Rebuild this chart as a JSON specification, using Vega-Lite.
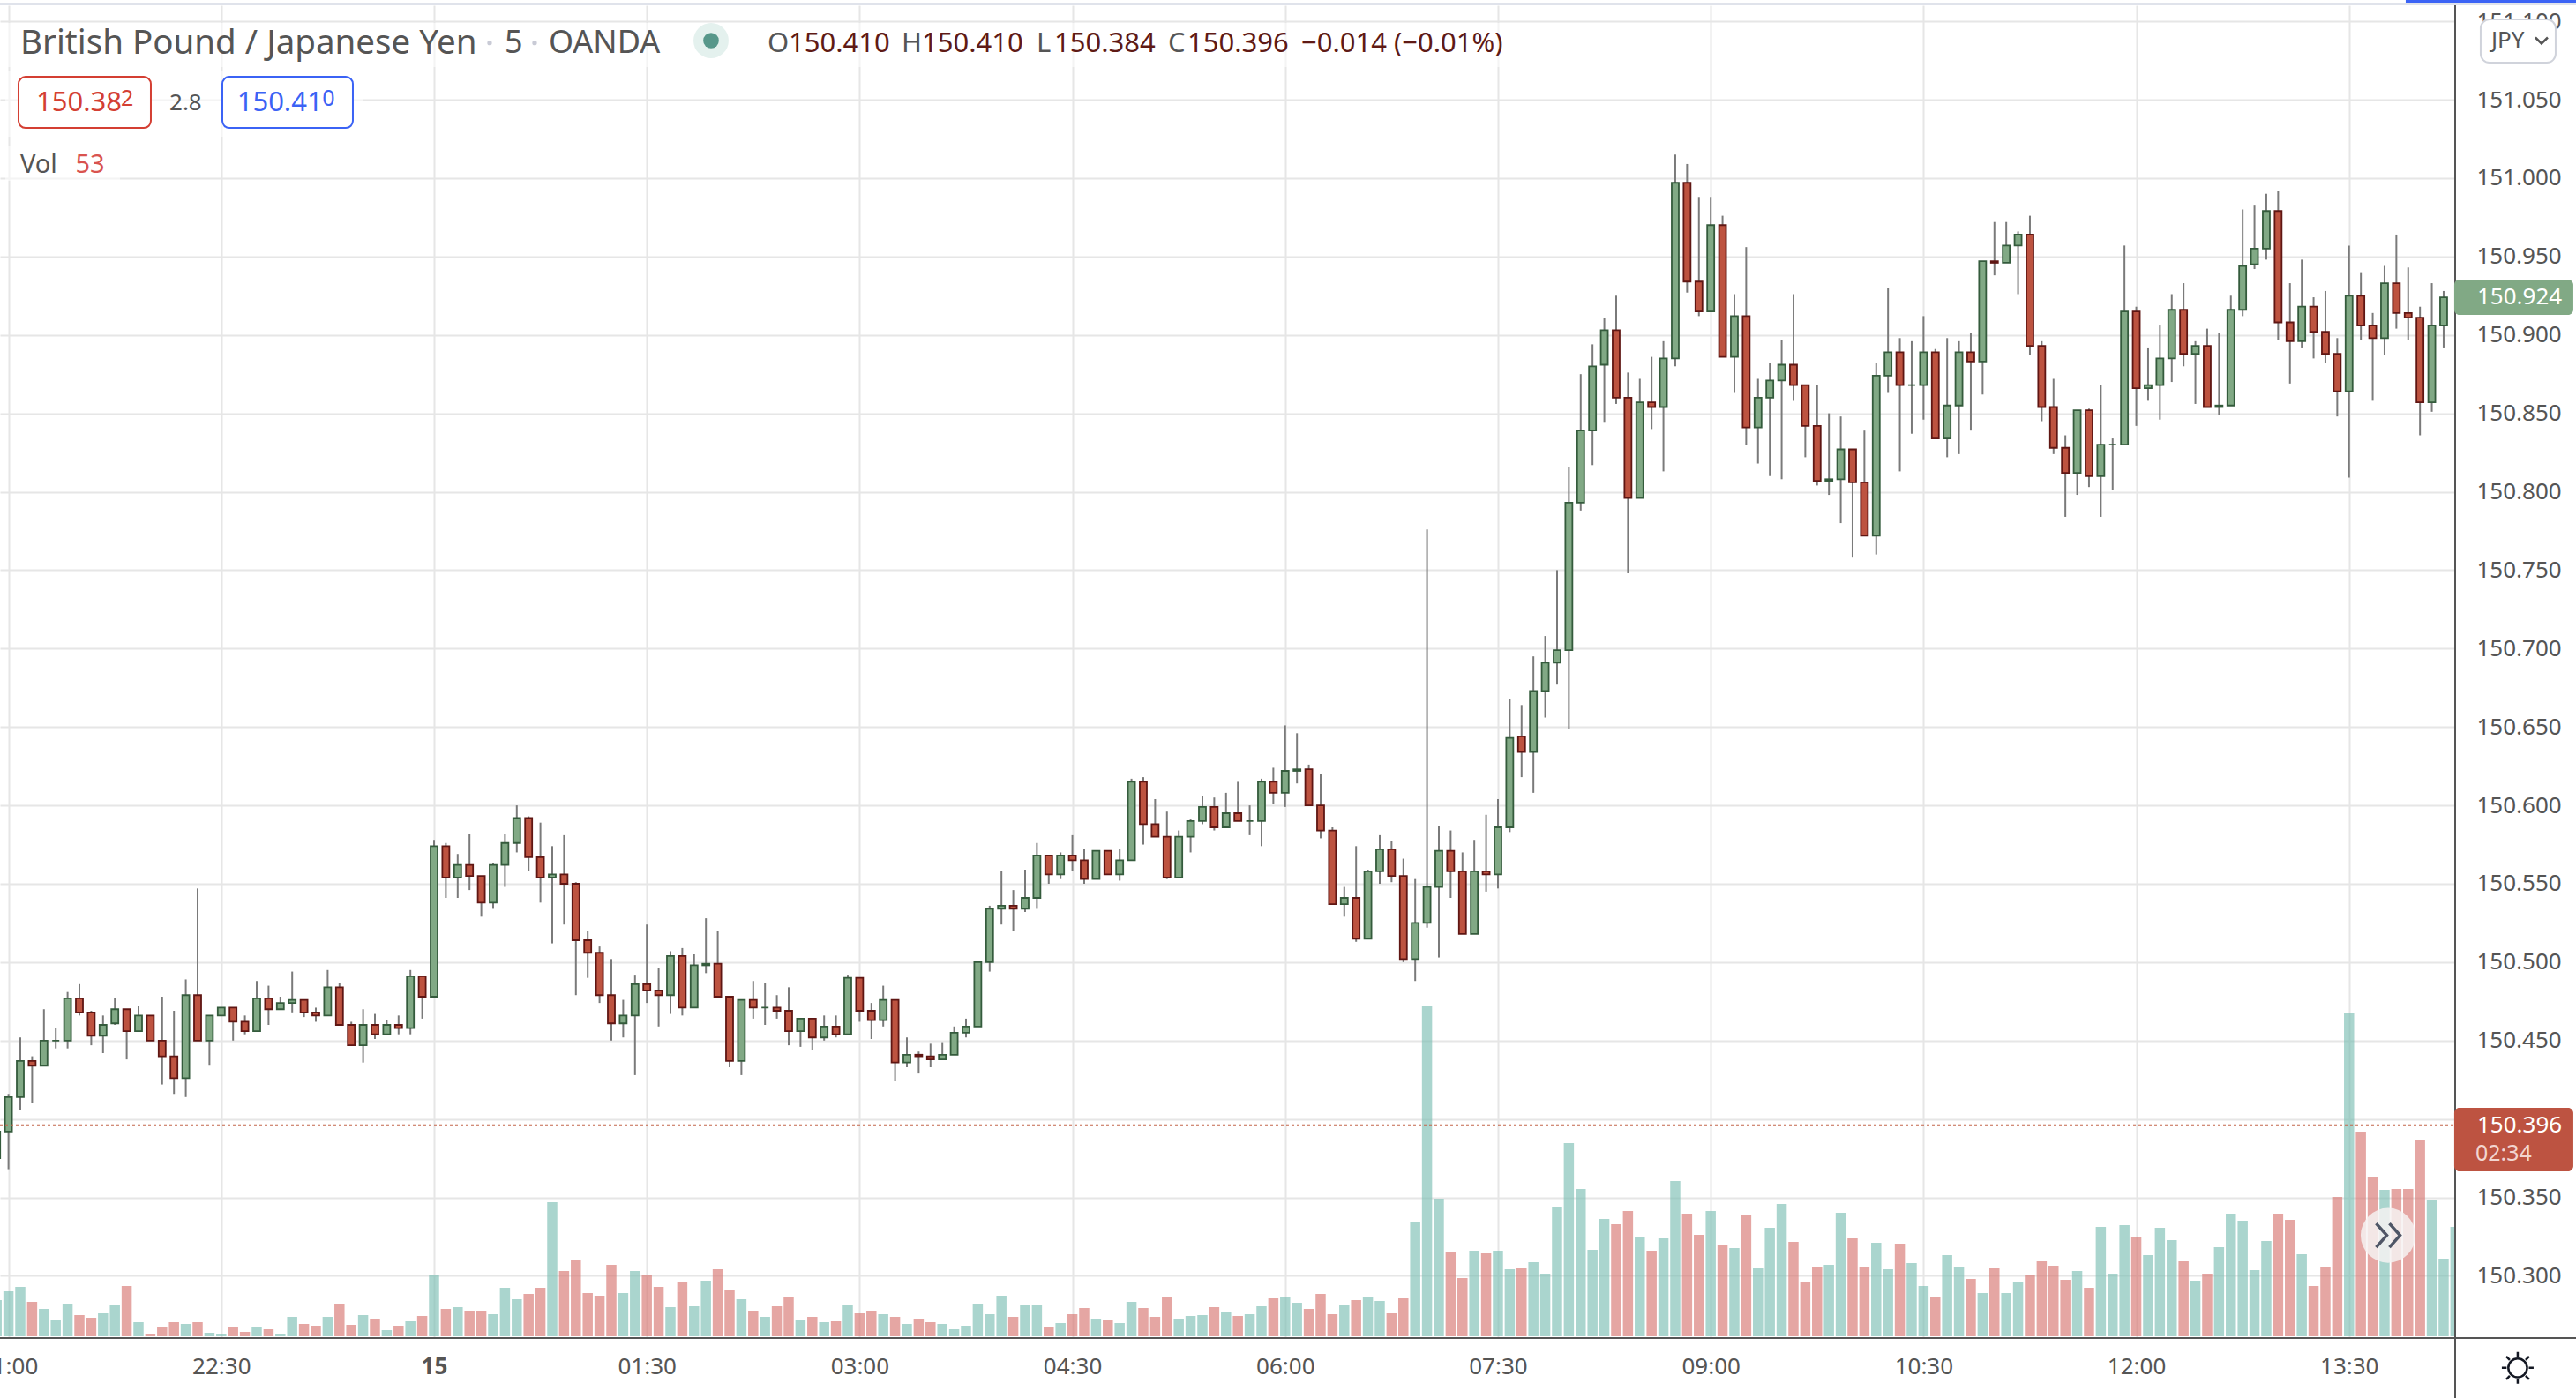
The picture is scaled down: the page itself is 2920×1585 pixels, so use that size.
{"$schema":"https://vega.github.io/schema/vega-lite/v6.json","width":2783,"height":1510,"autosize":{"type":"none"},"padding":{"left":0,"top":6,"right":137,"bottom":69},"background":"white","config":{"font":"Noto Sans","view":{"stroke":null}},
"data":{"values":[{}]},
"datasets":{"bars":[
{"t":"2021-04-14T20:55Z","o":150.375,"h":150.395,"l":150.370,"c":150.392,"v":41},
{"t":"2021-04-14T21:00Z","o":150.392,"h":150.416,"l":150.368,"c":150.414,"v":51},
{"t":"2021-04-14T21:05Z","o":150.414,"h":150.452,"l":150.406,"c":150.437,"v":56},
{"t":"2021-04-14T21:10Z","o":150.437,"h":150.440,"l":150.410,"c":150.434,"v":39},
{"t":"2021-04-14T21:15Z","o":150.434,"h":150.470,"l":150.434,"c":150.450,"v":31},
{"t":"2021-04-14T21:20Z","o":150.450,"h":150.458,"l":150.445,"c":150.450,"v":19},
{"t":"2021-04-14T21:25Z","o":150.450,"h":150.481,"l":150.445,"c":150.477,"v":37},
{"t":"2021-04-14T21:30Z","o":150.477,"h":150.486,"l":150.466,"c":150.468,"v":24},
{"t":"2021-04-14T21:35Z","o":150.468,"h":150.469,"l":150.447,"c":150.453,"v":21},
{"t":"2021-04-14T21:40Z","o":150.453,"h":150.466,"l":150.442,"c":150.460,"v":26},
{"t":"2021-04-14T21:45Z","o":150.461,"h":150.477,"l":150.460,"c":150.470,"v":35},
{"t":"2021-04-14T21:50Z","o":150.470,"h":150.470,"l":150.438,"c":150.456,"v":57},
{"t":"2021-04-14T21:55Z","o":150.456,"h":150.472,"l":150.456,"c":150.466,"v":16},
{"t":"2021-04-14T22:00Z","o":150.466,"h":150.466,"l":150.450,"c":150.450,"v":2},
{"t":"2021-04-14T22:05Z","o":150.450,"h":150.478,"l":150.422,"c":150.440,"v":11},
{"t":"2021-04-14T22:10Z","o":150.440,"h":150.469,"l":150.416,"c":150.426,"v":16},
{"t":"2021-04-14T22:15Z","o":150.426,"h":150.489,"l":150.414,"c":150.479,"v":14},
{"t":"2021-04-14T22:20Z","o":150.479,"h":150.547,"l":150.450,"c":150.450,"v":16},
{"t":"2021-04-14T22:25Z","o":150.450,"h":150.466,"l":150.434,"c":150.466,"v":4},
{"t":"2021-04-14T22:30Z","o":150.466,"h":150.471,"l":150.466,"c":150.471,"v":2},
{"t":"2021-04-14T22:35Z","o":150.471,"h":150.471,"l":150.450,"c":150.462,"v":10},
{"t":"2021-04-14T22:40Z","o":150.462,"h":150.466,"l":150.454,"c":150.456,"v":5},
{"t":"2021-04-14T22:45Z","o":150.456,"h":150.488,"l":150.456,"c":150.477,"v":11},
{"t":"2021-04-14T22:50Z","o":150.477,"h":150.485,"l":150.460,"c":150.470,"v":8},
{"t":"2021-04-14T22:55Z","o":150.470,"h":150.478,"l":150.470,"c":150.474,"v":3},
{"t":"2021-04-14T23:00Z","o":150.474,"h":150.494,"l":150.468,"c":150.476,"v":22},
{"t":"2021-04-14T23:05Z","o":150.476,"h":150.476,"l":150.465,"c":150.468,"v":14},
{"t":"2021-04-14T23:10Z","o":150.468,"h":150.471,"l":150.462,"c":150.466,"v":12},
{"t":"2021-04-14T23:15Z","o":150.466,"h":150.495,"l":150.466,"c":150.484,"v":22},
{"t":"2021-04-14T23:20Z","o":150.484,"h":150.487,"l":150.460,"c":150.460,"v":37},
{"t":"2021-04-14T23:25Z","o":150.460,"h":150.462,"l":150.447,"c":150.447,"v":13},
{"t":"2021-04-14T23:30Z","o":150.447,"h":150.470,"l":150.436,"c":150.460,"v":24},
{"t":"2021-04-14T23:35Z","o":150.460,"h":150.467,"l":150.451,"c":150.454,"v":20},
{"t":"2021-04-14T23:40Z","o":150.454,"h":150.463,"l":150.454,"c":150.460,"v":7},
{"t":"2021-04-14T23:45Z","o":150.460,"h":150.466,"l":150.454,"c":150.458,"v":12},
{"t":"2021-04-14T23:50Z","o":150.458,"h":150.495,"l":150.454,"c":150.491,"v":17},
{"t":"2021-04-14T23:55Z","o":150.491,"h":150.491,"l":150.464,"c":150.478,"v":23},
{"t":"2021-04-15T00:00Z","o":150.478,"h":150.578,"l":150.478,"c":150.574,"v":70},
{"t":"2021-04-15T00:05Z","o":150.574,"h":150.576,"l":150.541,"c":150.554,"v":31},
{"t":"2021-04-15T00:10Z","o":150.554,"h":150.569,"l":150.541,"c":150.562,"v":33},
{"t":"2021-04-15T00:15Z","o":150.562,"h":150.582,"l":150.546,"c":150.555,"v":29},
{"t":"2021-04-15T00:20Z","o":150.555,"h":150.555,"l":150.529,"c":150.538,"v":29},
{"t":"2021-04-15T00:25Z","o":150.538,"h":150.563,"l":150.534,"c":150.562,"v":25},
{"t":"2021-04-15T00:30Z","o":150.562,"h":150.582,"l":150.548,"c":150.576,"v":55},
{"t":"2021-04-15T00:35Z","o":150.576,"h":150.600,"l":150.570,"c":150.592,"v":42},
{"t":"2021-04-15T00:40Z","o":150.592,"h":150.593,"l":150.558,"c":150.567,"v":48},
{"t":"2021-04-15T00:45Z","o":150.567,"h":150.589,"l":150.538,"c":150.554,"v":55},
{"t":"2021-04-15T00:50Z","o":150.554,"h":150.574,"l":150.512,"c":150.556,"v":152},
{"t":"2021-04-15T00:55Z","o":150.556,"h":150.581,"l":150.524,"c":150.550,"v":74},
{"t":"2021-04-15T01:00Z","o":150.550,"h":150.551,"l":150.479,"c":150.514,"v":86},
{"t":"2021-04-15T01:05Z","o":150.514,"h":150.520,"l":150.490,"c":150.506,"v":49},
{"t":"2021-04-15T01:10Z","o":150.506,"h":150.510,"l":150.474,"c":150.479,"v":46},
{"t":"2021-04-15T01:15Z","o":150.479,"h":150.502,"l":150.450,"c":150.461,"v":81},
{"t":"2021-04-15T01:20Z","o":150.461,"h":150.476,"l":150.452,"c":150.466,"v":49},
{"t":"2021-04-15T01:25Z","o":150.466,"h":150.492,"l":150.428,"c":150.486,"v":74},
{"t":"2021-04-15T01:30Z","o":150.486,"h":150.524,"l":150.474,"c":150.482,"v":69},
{"t":"2021-04-15T01:35Z","o":150.482,"h":150.496,"l":150.459,"c":150.479,"v":56},
{"t":"2021-04-15T01:40Z","o":150.479,"h":150.507,"l":150.467,"c":150.504,"v":33},
{"t":"2021-04-15T01:45Z","o":150.504,"h":150.509,"l":150.466,"c":150.471,"v":61},
{"t":"2021-04-15T01:50Z","o":150.471,"h":150.505,"l":150.471,"c":150.498,"v":34},
{"t":"2021-04-15T01:55Z","o":150.498,"h":150.528,"l":150.493,"c":150.499,"v":63},
{"t":"2021-04-15T02:00Z","o":150.499,"h":150.520,"l":150.478,"c":150.478,"v":76},
{"t":"2021-04-15T02:05Z","o":150.478,"h":150.478,"l":150.433,"c":150.437,"v":53},
{"t":"2021-04-15T02:10Z","o":150.437,"h":150.476,"l":150.428,"c":150.476,"v":42},
{"t":"2021-04-15T02:15Z","o":150.476,"h":150.488,"l":150.464,"c":150.471,"v":29},
{"t":"2021-04-15T02:20Z","o":150.471,"h":150.487,"l":150.460,"c":150.471,"v":22},
{"t":"2021-04-15T02:25Z","o":150.471,"h":150.479,"l":150.464,"c":150.469,"v":34},
{"t":"2021-04-15T02:30Z","o":150.469,"h":150.484,"l":150.447,"c":150.456,"v":44},
{"t":"2021-04-15T02:35Z","o":150.456,"h":150.464,"l":150.446,"c":150.464,"v":19},
{"t":"2021-04-15T02:40Z","o":150.464,"h":150.464,"l":150.444,"c":150.452,"v":22},
{"t":"2021-04-15T02:45Z","o":150.452,"h":150.466,"l":150.450,"c":150.459,"v":16},
{"t":"2021-04-15T02:50Z","o":150.459,"h":150.466,"l":150.452,"c":150.454,"v":17},
{"t":"2021-04-15T02:55Z","o":150.454,"h":150.492,"l":150.454,"c":150.490,"v":35},
{"t":"2021-04-15T03:00Z","o":150.490,"h":150.490,"l":150.462,"c":150.469,"v":26},
{"t":"2021-04-15T03:05Z","o":150.469,"h":150.474,"l":150.451,"c":150.463,"v":29},
{"t":"2021-04-15T03:10Z","o":150.463,"h":150.485,"l":150.459,"c":150.476,"v":25},
{"t":"2021-04-15T03:15Z","o":150.476,"h":150.476,"l":150.424,"c":150.436,"v":22},
{"t":"2021-04-15T03:20Z","o":150.436,"h":150.452,"l":150.433,"c":150.441,"v":14},
{"t":"2021-04-15T03:25Z","o":150.441,"h":150.443,"l":150.429,"c":150.440,"v":20},
{"t":"2021-04-15T03:30Z","o":150.440,"h":150.448,"l":150.433,"c":150.438,"v":16},
{"t":"2021-04-15T03:35Z","o":150.438,"h":150.449,"l":150.438,"c":150.441,"v":14},
{"t":"2021-04-15T03:40Z","o":150.441,"h":150.459,"l":150.441,"c":150.455,"v":8},
{"t":"2021-04-15T03:45Z","o":150.455,"h":150.464,"l":150.452,"c":150.459,"v":12},
{"t":"2021-04-15T03:50Z","o":150.459,"h":150.500,"l":150.459,"c":150.500,"v":37},
{"t":"2021-04-15T03:55Z","o":150.500,"h":150.536,"l":150.494,"c":150.534,"v":25},
{"t":"2021-04-15T04:00Z","o":150.534,"h":150.558,"l":150.524,"c":150.536,"v":46},
{"t":"2021-04-15T04:05Z","o":150.536,"h":150.546,"l":150.520,"c":150.534,"v":22},
{"t":"2021-04-15T04:10Z","o":150.534,"h":150.559,"l":150.532,"c":150.541,"v":35},
{"t":"2021-04-15T04:15Z","o":150.541,"h":150.576,"l":150.534,"c":150.568,"v":36},
{"t":"2021-04-15T04:20Z","o":150.568,"h":150.568,"l":150.550,"c":150.556,"v":10},
{"t":"2021-04-15T04:25Z","o":150.556,"h":150.570,"l":150.553,"c":150.568,"v":15},
{"t":"2021-04-15T04:30Z","o":150.568,"h":150.581,"l":150.558,"c":150.565,"v":25},
{"t":"2021-04-15T04:35Z","o":150.565,"h":150.572,"l":150.550,"c":150.553,"v":32},
{"t":"2021-04-15T04:40Z","o":150.553,"h":150.571,"l":150.553,"c":150.571,"v":20},
{"t":"2021-04-15T04:45Z","o":150.571,"h":150.571,"l":150.556,"c":150.556,"v":19},
{"t":"2021-04-15T04:50Z","o":150.556,"h":150.572,"l":150.552,"c":150.565,"v":15},
{"t":"2021-04-15T04:55Z","o":150.565,"h":150.617,"l":150.565,"c":150.615,"v":39},
{"t":"2021-04-15T05:00Z","o":150.615,"h":150.618,"l":150.575,"c":150.588,"v":32},
{"t":"2021-04-15T05:05Z","o":150.588,"h":150.604,"l":150.580,"c":150.580,"v":22},
{"t":"2021-04-15T05:10Z","o":150.580,"h":150.596,"l":150.553,"c":150.554,"v":44},
{"t":"2021-04-15T05:15Z","o":150.554,"h":150.584,"l":150.554,"c":150.580,"v":20},
{"t":"2021-04-15T05:20Z","o":150.580,"h":150.591,"l":150.570,"c":150.590,"v":23},
{"t":"2021-04-15T05:25Z","o":150.590,"h":150.606,"l":150.588,"c":150.599,"v":24},
{"t":"2021-04-15T05:30Z","o":150.599,"h":150.605,"l":150.584,"c":150.586,"v":33},
{"t":"2021-04-15T05:35Z","o":150.586,"h":150.608,"l":150.586,"c":150.595,"v":28},
{"t":"2021-04-15T05:40Z","o":150.595,"h":150.615,"l":150.590,"c":150.590,"v":23},
{"t":"2021-04-15T05:45Z","o":150.590,"h":150.600,"l":150.581,"c":150.590,"v":25},
{"t":"2021-04-15T05:50Z","o":150.590,"h":150.617,"l":150.574,"c":150.615,"v":34},
{"t":"2021-04-15T05:55Z","o":150.615,"h":150.624,"l":150.601,"c":150.608,"v":43},
{"t":"2021-04-15T06:00Z","o":150.608,"h":150.651,"l":150.599,"c":150.622,"v":45},
{"t":"2021-04-15T06:05Z","o":150.622,"h":150.646,"l":150.614,"c":150.623,"v":38},
{"t":"2021-04-15T06:10Z","o":150.623,"h":150.626,"l":150.600,"c":150.600,"v":31},
{"t":"2021-04-15T06:15Z","o":150.600,"h":150.620,"l":150.579,"c":150.584,"v":48},
{"t":"2021-04-15T06:20Z","o":150.584,"h":150.586,"l":150.537,"c":150.537,"v":25},
{"t":"2021-04-15T06:25Z","o":150.537,"h":150.548,"l":150.529,"c":150.541,"v":36},
{"t":"2021-04-15T06:30Z","o":150.541,"h":150.574,"l":150.513,"c":150.515,"v":41},
{"t":"2021-04-15T06:35Z","o":150.515,"h":150.559,"l":150.515,"c":150.558,"v":44},
{"t":"2021-04-15T06:40Z","o":150.558,"h":150.581,"l":150.550,"c":150.572,"v":40},
{"t":"2021-04-15T06:45Z","o":150.572,"h":150.577,"l":150.551,"c":150.555,"v":26},
{"t":"2021-04-15T06:50Z","o":150.555,"h":150.566,"l":150.500,"c":150.502,"v":43},
{"t":"2021-04-15T06:55Z","o":150.502,"h":150.553,"l":150.488,"c":150.525,"v":130},
{"t":"2021-04-15T07:00Z","o":150.525,"h":150.776,"l":150.522,"c":150.548,"v":375},
{"t":"2021-04-15T07:05Z","o":150.548,"h":150.587,"l":150.503,"c":150.571,"v":156},
{"t":"2021-04-15T07:10Z","o":150.571,"h":150.584,"l":150.541,"c":150.558,"v":95},
{"t":"2021-04-15T07:15Z","o":150.558,"h":150.570,"l":150.518,"c":150.518,"v":66},
{"t":"2021-04-15T07:20Z","o":150.518,"h":150.578,"l":150.518,"c":150.558,"v":97},
{"t":"2021-04-15T07:25Z","o":150.558,"h":150.594,"l":150.545,"c":150.556,"v":94},
{"t":"2021-04-15T07:30Z","o":150.556,"h":150.604,"l":150.547,"c":150.586,"v":97},
{"t":"2021-04-15T07:35Z","o":150.586,"h":150.668,"l":150.583,"c":150.643,"v":76},
{"t":"2021-04-15T07:40Z","o":150.644,"h":150.664,"l":150.618,"c":150.634,"v":77},
{"t":"2021-04-15T07:45Z","o":150.634,"h":150.695,"l":150.608,"c":150.673,"v":84},
{"t":"2021-04-15T07:50Z","o":150.673,"h":150.708,"l":150.656,"c":150.691,"v":71},
{"t":"2021-04-15T07:55Z","o":150.691,"h":150.750,"l":150.677,"c":150.699,"v":146},
{"t":"2021-04-15T08:00Z","o":150.699,"h":150.816,"l":150.649,"c":150.793,"v":219},
{"t":"2021-04-15T08:05Z","o":150.793,"h":150.875,"l":150.788,"c":150.839,"v":167},
{"t":"2021-04-15T08:10Z","o":150.839,"h":150.894,"l":150.817,"c":150.880,"v":98},
{"t":"2021-04-15T08:15Z","o":150.881,"h":150.911,"l":150.844,"c":150.903,"v":133},
{"t":"2021-04-15T08:20Z","o":150.903,"h":150.925,"l":150.856,"c":150.860,"v":127},
{"t":"2021-04-15T08:25Z","o":150.860,"h":150.876,"l":150.748,"c":150.796,"v":142},
{"t":"2021-04-15T08:30Z","o":150.796,"h":150.872,"l":150.796,"c":150.857,"v":113},
{"t":"2021-04-15T08:35Z","o":150.857,"h":150.886,"l":150.840,"c":150.854,"v":97},
{"t":"2021-04-15T08:40Z","o":150.854,"h":150.896,"l":150.813,"c":150.885,"v":111},
{"t":"2021-04-15T08:45Z","o":150.885,"h":151.015,"l":150.880,"c":150.997,"v":176},
{"t":"2021-04-15T08:50Z","o":150.997,"h":151.009,"l":150.927,"c":150.934,"v":139},
{"t":"2021-04-15T08:55Z","o":150.934,"h":150.988,"l":150.912,"c":150.915,"v":115},
{"t":"2021-04-15T09:00Z","o":150.915,"h":150.988,"l":150.915,"c":150.970,"v":142},
{"t":"2021-04-15T09:05Z","o":150.970,"h":150.976,"l":150.886,"c":150.886,"v":104},
{"t":"2021-04-15T09:10Z","o":150.886,"h":150.926,"l":150.863,"c":150.912,"v":100},
{"t":"2021-04-15T09:15Z","o":150.912,"h":150.956,"l":150.830,"c":150.841,"v":138},
{"t":"2021-04-15T09:20Z","o":150.841,"h":150.872,"l":150.818,"c":150.860,"v":77},
{"t":"2021-04-15T09:25Z","o":150.860,"h":150.882,"l":150.810,"c":150.871,"v":123},
{"t":"2021-04-15T09:30Z","o":150.871,"h":150.897,"l":150.808,"c":150.881,"v":150},
{"t":"2021-04-15T09:35Z","o":150.881,"h":150.926,"l":150.858,"c":150.868,"v":107},
{"t":"2021-04-15T09:40Z","o":150.868,"h":150.868,"l":150.822,"c":150.842,"v":62},
{"t":"2021-04-15T09:45Z","o":150.842,"h":150.868,"l":150.804,"c":150.807,"v":78},
{"t":"2021-04-15T09:50Z","o":150.807,"h":150.850,"l":150.798,"c":150.808,"v":81},
{"t":"2021-04-15T09:55Z","o":150.808,"h":150.848,"l":150.780,"c":150.827,"v":140},
{"t":"2021-04-15T10:00Z","o":150.827,"h":150.827,"l":150.758,"c":150.806,"v":111},
{"t":"2021-04-15T10:05Z","o":150.806,"h":150.839,"l":150.772,"c":150.772,"v":79},
{"t":"2021-04-15T10:10Z","o":150.772,"h":150.882,"l":150.760,"c":150.874,"v":106},
{"t":"2021-04-15T10:15Z","o":150.874,"h":150.930,"l":150.863,"c":150.889,"v":76},
{"t":"2021-04-15T10:20Z","o":150.889,"h":150.898,"l":150.813,"c":150.868,"v":105},
{"t":"2021-04-15T10:25Z","o":150.868,"h":150.896,"l":150.837,"c":150.868,"v":83},
{"t":"2021-04-15T10:30Z","o":150.868,"h":150.912,"l":150.846,"c":150.889,"v":57},
{"t":"2021-04-15T10:35Z","o":150.889,"h":150.891,"l":150.834,"c":150.834,"v":44},
{"t":"2021-04-15T10:40Z","o":150.834,"h":150.898,"l":150.822,"c":150.855,"v":92},
{"t":"2021-04-15T10:45Z","o":150.855,"h":150.896,"l":150.824,"c":150.889,"v":79},
{"t":"2021-04-15T10:50Z","o":150.889,"h":150.901,"l":150.839,"c":150.883,"v":65},
{"t":"2021-04-15T10:55Z","o":150.883,"h":150.947,"l":150.862,"c":150.947,"v":49},
{"t":"2021-04-15T11:00Z","o":150.947,"h":150.972,"l":150.938,"c":150.946,"v":77},
{"t":"2021-04-15T11:05Z","o":150.946,"h":150.972,"l":150.946,"c":150.957,"v":49},
{"t":"2021-04-15T11:10Z","o":150.957,"h":150.966,"l":150.926,"c":150.964,"v":62},
{"t":"2021-04-15T11:15Z","o":150.964,"h":150.976,"l":150.887,"c":150.893,"v":70},
{"t":"2021-04-15T11:20Z","o":150.893,"h":150.896,"l":150.845,"c":150.854,"v":85},
{"t":"2021-04-15T11:25Z","o":150.854,"h":150.872,"l":150.824,"c":150.828,"v":80},
{"t":"2021-04-15T11:30Z","o":150.828,"h":150.836,"l":150.784,"c":150.812,"v":64},
{"t":"2021-04-15T11:35Z","o":150.812,"h":150.852,"l":150.798,"c":150.852,"v":74},
{"t":"2021-04-15T11:40Z","o":150.852,"h":150.853,"l":150.803,"c":150.810,"v":55},
{"t":"2021-04-15T11:45Z","o":150.810,"h":150.868,"l":150.784,"c":150.830,"v":124},
{"t":"2021-04-15T11:50Z","o":150.830,"h":150.834,"l":150.801,"c":150.830,"v":71},
{"t":"2021-04-15T11:55Z","o":150.830,"h":150.957,"l":150.830,"c":150.915,"v":126},
{"t":"2021-04-15T12:00Z","o":150.915,"h":150.918,"l":150.842,"c":150.866,"v":112},
{"t":"2021-04-15T12:05Z","o":150.866,"h":150.892,"l":150.858,"c":150.868,"v":92},
{"t":"2021-04-15T12:10Z","o":150.868,"h":150.906,"l":150.846,"c":150.885,"v":123},
{"t":"2021-04-15T12:15Z","o":150.885,"h":150.926,"l":150.870,"c":150.916,"v":109},
{"t":"2021-04-15T12:20Z","o":150.916,"h":150.933,"l":150.880,"c":150.888,"v":85},
{"t":"2021-04-15T12:25Z","o":150.888,"h":150.896,"l":150.856,"c":150.893,"v":63},
{"t":"2021-04-15T12:30Z","o":150.893,"h":150.904,"l":150.854,"c":150.854,"v":71},
{"t":"2021-04-15T12:35Z","o":150.854,"h":150.901,"l":150.849,"c":150.855,"v":101},
{"t":"2021-04-15T12:40Z","o":150.855,"h":150.925,"l":150.855,"c":150.916,"v":139},
{"t":"2021-04-15T12:45Z","o":150.916,"h":150.980,"l":150.912,"c":150.944,"v":131},
{"t":"2021-04-15T12:50Z","o":150.945,"h":150.983,"l":150.942,"c":150.955,"v":75},
{"t":"2021-04-15T12:55Z","o":150.955,"h":150.990,"l":150.948,"c":150.979,"v":108},
{"t":"2021-04-15T13:00Z","o":150.979,"h":150.992,"l":150.897,"c":150.908,"v":139},
{"t":"2021-04-15T13:05Z","o":150.908,"h":150.933,"l":150.869,"c":150.896,"v":132},
{"t":"2021-04-15T13:10Z","o":150.896,"h":150.948,"l":150.892,"c":150.918,"v":93},
{"t":"2021-04-15T13:15Z","o":150.918,"h":150.924,"l":150.885,"c":150.902,"v":57},
{"t":"2021-04-15T13:20Z","o":150.902,"h":150.928,"l":150.882,"c":150.888,"v":79},
{"t":"2021-04-15T13:25Z","o":150.888,"h":150.898,"l":150.848,"c":150.864,"v":158},
{"t":"2021-04-15T13:30Z","o":150.864,"h":150.957,"l":150.809,"c":150.925,"v":366},
{"t":"2021-04-15T13:35Z","o":150.925,"h":150.940,"l":150.897,"c":150.906,"v":232},
{"t":"2021-04-15T13:40Z","o":150.906,"h":150.914,"l":150.858,"c":150.898,"v":181},
{"t":"2021-04-15T13:45Z","o":150.898,"h":150.944,"l":150.887,"c":150.933,"v":166},
{"t":"2021-04-15T13:50Z","o":150.933,"h":150.964,"l":150.904,"c":150.914,"v":167},
{"t":"2021-04-15T13:55Z","o":150.914,"h":150.943,"l":150.897,"c":150.911,"v":167},
{"t":"2021-04-15T14:00Z","o":150.911,"h":150.918,"l":150.836,"c":150.857,"v":223},
{"t":"2021-04-15T14:05Z","o":150.857,"h":150.933,"l":150.851,"c":150.906,"v":154},
{"t":"2021-04-15T14:10Z","o":150.906,"h":150.928,"l":150.892,"c":150.924,"v":88},
{"t":"2021-04-15T14:15Z","o":null,"h":null,"l":null,"c":null,"v":124}
]},
"resolve":{"scale":{"y":"independent"}},
"layer":[
{"data":{"name":"bars"},"mark":{"type":"bar","size":11.5,"clip":true,"opacity":0.65},
"encoding":{
"x":{"field":"t","type":"temporal","scale":{"type":"utc","domain":[1618433785000,1618496092000],"nice":false,"padding":0},
"axis":{"title":null,"values":["2021-04-14T21:00Z","2021-04-14T22:30Z","2021-04-15T00:00Z","2021-04-15T01:30Z","2021-04-15T03:00Z","2021-04-15T04:30Z","2021-04-15T06:00Z","2021-04-15T07:30Z","2021-04-15T09:00Z","2021-04-15T10:30Z","2021-04-15T12:00Z","2021-04-15T13:30Z"],"labelExpr":"utchours(datum.value)==0 ? '15' : utcFormat(datum.value,'%H:%M')","grid":true,"gridColor":"#E6E6E6","gridWidth":2,"domain":false,"ticks":false,"labelFontSize":26,"labelColor":"#555555","labelPadding":20,"labelOverlap":false,"labelBound":false,"labelFlush":false,"labelFontWeight":{"condition":{"test":"utchours(datum.value)==0","value":"bold"},"value":"normal"}}},
"y":{"field":"v","type":"quantitative","stack":null,"scale":{"domain":[-1,1509],"nice":false,"zero":false},"axis":null},
"color":{"condition":{"test":"datum.c>=datum.o","value":"#7DBFB3"},"value":"#D77672"}}},
{"layer":[
{"mark":{"type":"rect","color":"white","opacity":0.55},"encoding":{"x":{"datum":1618433920000,"type":"temporal"},"x2":{"datum":1618472180000},"y":{"datum":151.0989,"type":"quantitative"},"y2":{"datum":151.0708}}},
{"mark":{"type":"rect","color":"white","opacity":0.55},"encoding":{"x":{"datum":1618433920000,"type":"temporal"},"x2":{"datum":1618442987000},"y":{"datum":151.0686,"type":"quantitative"},"y2":{"datum":151.0264}}},
{"mark":{"type":"rect","color":"white","opacity":0.55},"encoding":{"x":{"datum":1618433920000,"type":"temporal"},"x2":{"datum":1618436830000},"y":{"datum":151.0208,"type":"quantitative"},"y2":{"datum":150.9983}}},
{"data":{"name":"bars"},"mark":{"type":"rule","color":"#7A7A7A","strokeWidth":2,"clip":true},"encoding":{"x":{"field":"t","type":"temporal"},"y":{"field":"h","type":"quantitative","scale":{"domain":[150.2609,151.1102],"nice":false,"zero":false},
"axis":{"title":null,"orient":"right","values":[150.3,150.35,150.4,150.45,150.5,150.55,150.6,150.65,150.7,150.75,150.8,150.85,150.9,150.95,151,151.05,151.1],"format":".3f","grid":true,"gridColor":"#E6E6E6","gridWidth":2,"domain":false,"ticks":false,"labelFontSize":26,"labelColor":"#555555","labelPadding":24,"labelOverlap":false,"labelBound":false}},"y2":{"field":"l"}}},
{"data":{"name":"bars"},"mark":{"type":"bar","size":8,"strokeWidth":1.8,"clip":true},"encoding":{"x":{"field":"t","type":"temporal"},"y":{"field":"o","type":"quantitative"},"y2":{"field":"c"},
"fill":{"condition":{"test":"datum.c>=datum.o","value":"#81A985"},"value":"#BD5340"},
"stroke":{"condition":{"test":"datum.c>=datum.o","value":"#345B3C"},"value":"#5F1613"}}},
{"mark":{"type":"rule","color":"#C4674C","strokeWidth":2,"strokeDash":[3,3]},"encoding":{"x":{"datum":1618433785000,"type":"temporal"},"x2":{"datum":1618496092000},"y":{"datum":150.396,"type":"quantitative"}}},
{"mark":{"type":"rect","color":"#E0E3EB"},"encoding":{"x":{"datum":1618433785000,"type":"temporal"},"x2":{"datum":1618499400000},"y":{"datum":151.1119,"type":"quantitative"},"y2":{"datum":151.1102}}},
{"mark":{"type":"rect","color":"#3B63F5"},"encoding":{"x":{"datum":1618494837000,"type":"temporal"},"x2":{"datum":1618499400000},"y":{"datum":151.1136,"type":"quantitative"},"y2":{"datum":151.1119}}},
{"mark":{"type":"rule","color":"#555555","strokeWidth":2},"encoding":{"x":{"datum":1618496092000,"type":"temporal"},"y":{"datum":151.1102,"type":"quantitative"},"y2":{"datum":150.222}}},
{"mark":{"type":"rule","color":"#555555","strokeWidth":2},"encoding":{"x":{"datum":1618433785000,"type":"temporal"},"x2":{"datum":1618499400000},"y":{"datum":150.2604,"type":"quantitative"}}},
{"mark":{"type":"rect","color":"#81A985","cornerRadius":6},"encoding":{"x":{"datum":1618496068000,"type":"temporal"},"x2":{"datum":1618499091000},"y":{"datum":150.9353,"type":"quantitative"},"y2":{"datum":150.9128}}},
{"mark":{"type":"text","text":"150.924","align":"left","baseline":"middle","fontSize":26,"color":"white"},"encoding":{"x":{"datum":1618496650000,"type":"temporal"},"y":{"datum":150.924,"type":"quantitative"}}},
{"mark":{"type":"rect","color":"#BD5341","cornerRadius":6},"encoding":{"x":{"datum":1618496068000,"type":"temporal"},"x2":{"datum":1618499091000},"y":{"datum":150.4072,"type":"quantitative"},"y2":{"datum":150.3667}}},
{"mark":{"type":"text","text":"150.396","align":"left","baseline":"middle","fontSize":26,"color":"white"},"encoding":{"x":{"datum":1618496650000,"type":"temporal"},"y":{"datum":150.396,"type":"quantitative"}}},
{"mark":{"type":"text","text":"02:34","align":"left","baseline":"middle","fontSize":25,"color":"#F2D5D0"},"encoding":{"x":{"datum":1618496605000,"type":"temporal"},"y":{"datum":150.3779,"type":"quantitative"}}},
{"mark":{"type":"rect","fill":"white","stroke":"#D0D3DB","strokeWidth":2,"cornerRadius":10},"encoding":{"x":{"datum":1618496740000,"type":"temporal"},"x2":{"datum":1618498643000},"y":{"datum":151.1012,"type":"quantitative"},"y2":{"datum":151.0736}}},
{"mark":{"type":"text","text":"JPY","align":"left","baseline":"middle","fontSize":26,"color":"#555555"},"encoding":{"x":{"datum":1618497008000,"type":"temporal"},"y":{"datum":151.0877,"type":"quantitative"}}},
{"mark":{"type":"point","shape":"M-1,-0.5L0,0.5L1,-0.5","size":196,"filled":false,"color":"#555555","strokeWidth":2.5,"opacity":1},"encoding":{"x":{"datum":1618498285000,"type":"temporal"},"y":{"datum":151.0877,"type":"quantitative"}}},
{"mark":{"type":"circle","size":452,"filled":false,"stroke":"#131722","fill":"white","strokeWidth":2.5,"opacity":1},"encoding":{"x":{"datum":1618497680000,"type":"temporal"},"y":{"datum":150.2413,"type":"quantitative"}}},
{"mark":{"type":"point","shape":"M0,-1L0,-0.7M0,1L0,0.7M-1,0L-0.7,0M1,0L0.7,0M-0.72,-0.72L-0.5,-0.5M0.72,-0.72L0.5,-0.5M-0.72,0.72L-0.5,0.5M0.72,0.72L0.5,0.5","size":1296,"filled":false,"color":"#131722","strokeWidth":2.5,"opacity":1},"encoding":{"x":{"datum":1618497680000,"type":"temporal"},"y":{"datum":150.2413,"type":"quantitative"}}},
{"mark":{"type":"circle","size":3848,"color":"#F6F2F2","opacity":0.85},"encoding":{"x":{"datum":1618494390000,"type":"temporal"},"y":{"datum":150.3258,"type":"quantitative"}}},
{"mark":{"type":"point","shape":"M-0.9,-0.9L-0.1,0L-0.9,0.9M0.1,-0.9L0.9,0L0.1,0.9","size":900,"filled":false,"color":"#4F5666","strokeWidth":3.5,"opacity":1},"encoding":{"x":{"datum":1618494390000,"type":"temporal"},"y":{"datum":150.3258,"type":"quantitative"}}},
{"mark":{"type":"text","text":"British Pound / Japanese Yen","align":"left","baseline":"middle","fontSize":38.5,"color":"#555555"},"encoding":{"x":{"datum":1618434300000,"type":"temporal"},"y":{"datum":151.0862,"type":"quantitative"}}},
{"mark":{"type":"circle","size":28,"color":"#C9CBD6","opacity":1},"encoding":{"x":{"datum":1618446210000,"type":"temporal"},"y":{"datum":151.0862,"type":"quantitative"}}},
{"mark":{"type":"text","text":"5","align":"left","baseline":"middle","fontSize":36,"color":"#555555"},"encoding":{"x":{"datum":1618446591000,"type":"temporal"},"y":{"datum":151.0862,"type":"quantitative"}}},
{"mark":{"type":"circle","size":28,"color":"#C9CBD6","opacity":1},"encoding":{"x":{"datum":1618447352000,"type":"temporal"},"y":{"datum":151.0862,"type":"quantitative"}}},
{"mark":{"type":"text","text":"OANDA","align":"left","baseline":"middle","fontSize":36,"color":"#555555"},"encoding":{"x":{"datum":1618447710000,"type":"temporal"},"y":{"datum":151.0862,"type":"quantitative"}}},
{"mark":{"type":"circle","size":1590,"color":"#E4F1EE","opacity":1},"encoding":{"x":{"datum":1618451830000,"type":"temporal"},"y":{"datum":151.0877,"type":"quantitative"}}},
{"mark":{"type":"circle","size":314,"color":"#57978A","opacity":1},"encoding":{"x":{"datum":1618451830000,"type":"temporal"},"y":{"datum":151.0877,"type":"quantitative"}}},
{"mark":{"type":"text","text":"O","align":"left","baseline":"middle","fontSize":31,"color":"#555555"},"encoding":{"x":{"datum":1618453263000,"type":"temporal"},"y":{"datum":151.0854,"type":"quantitative"}}},
{"mark":{"type":"text","text":"150.410","align":"left","baseline":"middle","fontSize":31,"color":"#5F1A15"},"encoding":{"x":{"datum":1618453800000,"type":"temporal"},"y":{"datum":151.0854,"type":"quantitative"}}},
{"mark":{"type":"text","text":"H","align":"left","baseline":"middle","fontSize":31,"color":"#555555"},"encoding":{"x":{"datum":1618456666000,"type":"temporal"},"y":{"datum":151.0854,"type":"quantitative"}}},
{"mark":{"type":"text","text":"150.410","align":"left","baseline":"middle","fontSize":31,"color":"#5F1A15"},"encoding":{"x":{"datum":1618457181000,"type":"temporal"},"y":{"datum":151.0854,"type":"quantitative"}}},
{"mark":{"type":"text","text":"L","align":"left","baseline":"middle","fontSize":31,"color":"#555555"},"encoding":{"x":{"datum":1618460091000,"type":"temporal"},"y":{"datum":151.0854,"type":"quantitative"}}},
{"mark":{"type":"text","text":"150.384","align":"left","baseline":"middle","fontSize":31,"color":"#5F1A15"},"encoding":{"x":{"datum":1618460539000,"type":"temporal"},"y":{"datum":151.0854,"type":"quantitative"}}},
{"mark":{"type":"text","text":"C","align":"left","baseline":"middle","fontSize":31,"color":"#555555"},"encoding":{"x":{"datum":1618463427000,"type":"temporal"},"y":{"datum":151.0854,"type":"quantitative"}}},
{"mark":{"type":"text","text":"150.396","align":"left","baseline":"middle","fontSize":31,"color":"#5F1A15"},"encoding":{"x":{"datum":1618463919000,"type":"temporal"},"y":{"datum":151.0854,"type":"quantitative"}}},
{"mark":{"type":"text","text":"−0.014 (−0.01%)","align":"left","baseline":"middle","fontSize":31,"color":"#5F1A15"},"encoding":{"x":{"datum":1618466808000,"type":"temporal"},"y":{"datum":151.0854,"type":"quantitative"}}},
{"mark":{"type":"rect","fill":"white","stroke":"#D43F33","strokeWidth":2,"cornerRadius":8},"encoding":{"x":{"datum":1618434255000,"type":"temporal"},"x2":{"datum":1618437613000},"y":{"datum":151.0646,"type":"quantitative"},"y2":{"datum":151.032}}},
{"mark":{"type":"text","text":"150.38","align":"left","baseline":"middle","fontSize":31,"color":"#D43F33"},"encoding":{"x":{"datum":1618434703000,"type":"temporal"},"y":{"datum":151.0478,"type":"quantitative"}}},
{"mark":{"type":"text","text":"2","align":"left","baseline":"middle","fontSize":25,"color":"#D43F33"},"encoding":{"x":{"datum":1618436850000,"type":"temporal"},"y":{"datum":151.0505,"type":"quantitative"}}},
{"mark":{"type":"text","text":"2.8","align":"left","baseline":"middle","fontSize":26,"color":"#555555"},"encoding":{"x":{"datum":1618438084000,"type":"temporal"},"y":{"datum":151.0478,"type":"quantitative"}}},
{"mark":{"type":"rect","fill":"white","stroke":"#3B63F5","strokeWidth":2,"cornerRadius":8},"encoding":{"x":{"datum":1618439427000,"type":"temporal"},"x2":{"datum":1618442740000},"y":{"datum":151.0646,"type":"quantitative"},"y2":{"datum":151.032}}},
{"mark":{"type":"text","text":"150.41","align":"left","baseline":"middle","fontSize":31,"color":"#3B63F5"},"encoding":{"x":{"datum":1618439800000,"type":"temporal"},"y":{"datum":151.0478,"type":"quantitative"}}},
{"mark":{"type":"text","text":"0","align":"left","baseline":"middle","fontSize":25,"color":"#3B63F5"},"encoding":{"x":{"datum":1618441960000,"type":"temporal"},"y":{"datum":151.0505,"type":"quantitative"}}},
{"mark":{"type":"text","text":"Vol","align":"left","baseline":"middle","fontSize":29,"color":"#555555"},"encoding":{"x":{"datum":1618434300000,"type":"temporal"},"y":{"datum":151.0086,"type":"quantitative"}}},
{"mark":{"type":"text","text":"53","align":"left","baseline":"middle","fontSize":29,"color":"#D9534F"},"encoding":{"x":{"datum":1618435700000,"type":"temporal"},"y":{"datum":151.0086,"type":"quantitative"}}}
]}
]}
